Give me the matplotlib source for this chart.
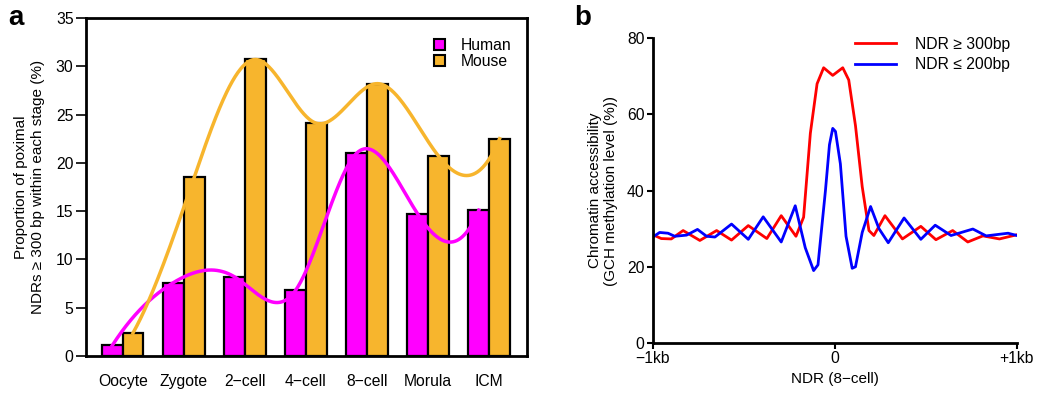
import numpy as np
import matplotlib
matplotlib.use("Agg")
import matplotlib.pyplot as plt
from matplotlib.patches import Patch

plt.rcParams['font.family'] = ['Liberation Sans', 'DejaVu Sans']

# panel a: proportion of proximal NDRs >= 300 bp
stages = ['Oocyte', 'Zygote', '2\u2212cell', '4\u2212cell', '8\u2212cell', 'Morula', 'ICM']
human = [1.1, 7.6, 8.2, 6.8, 21.0, 14.7, 15.1]
mouse = [2.4, 18.5, 30.7, 24.1, 28.2, 20.7, 22.5]

# panel b: GCH methylation level around 8-cell NDRs
pos_long = [-1000, -954, -899, -834, -742, -650, -568, -476, -374, -295, -214, -172,
            -135, -98, -62, -12, 43, 76, 113, 150, 187, 214, 275, 371, 472, 555,
            647, 730, 813, 904, 1000]
ndr_long = [28.4, 27.4, 27.3, 29.5, 26.9, 29.5, 27.0, 30.8, 27.4, 33.4, 28.0, 33.0,
            55.0, 68.0, 72.2, 70.2, 72.2, 69.0, 57.0, 41.0, 29.5, 28.2, 33.4, 27.3,
            30.6, 27.1, 29.5, 26.5, 28.1, 27.3, 28.4]
pos_short = [-1000, -963, -917, -880, -815, -755, -705, -659, -568, -476, -394, -295,
             -218, -163, -117, -93, -52, -30, -12, 3, 30, 61, 95, 113, 150, 196,
             242, 293, 380, 472, 551, 638, 758, 831, 951, 1000]
ndr_short = [27.8, 29.0, 28.8, 28.0, 28.3, 29.8, 28.0, 27.8, 31.2, 27.2, 33.1, 26.5,
             36.0, 25.0, 19.0, 20.5, 40.0, 52.0, 56.3, 55.5, 47.0, 28.0, 19.6, 20.0,
             29.0, 35.8, 30.0, 26.3, 32.8, 27.2, 30.9, 28.2, 29.9, 28.1, 28.8, 28.2]


def fmm_spline(x, y, n=400):
    # cubic interpolating spline with Forsythe-Malcolm-Moler end conditions (like R's spline())
    x = np.asarray(x, float)
    y = np.asarray(y, float)
    N = len(x)
    h = np.diff(x)
    dd = np.diff(y) / h
    A = np.zeros((N, N))
    r = np.zeros(N)
    for i in range(1, N - 1):
        A[i, i - 1] = h[i - 1]
        A[i, i] = 2 * (h[i - 1] + h[i])
        A[i, i + 1] = h[i]
        r[i] = dd[i] - dd[i - 1]
    A[0, 0] = -h[0]
    A[0, 1] = h[0]
    A[-1, -1] = -h[-1]
    A[-1, -2] = h[-1]
    c2 = np.diff(dd)
    r0 = c2[1] / (x[3] - x[1]) - c2[0] / (x[2] - x[0])
    rn = c2[-1] / (x[-1] - x[-3]) - c2[-2] / (x[-2] - x[-4])
    r[0] = r0 * h[0] ** 2 / (x[3] - x[0])
    r[-1] = -rn * h[-1] ** 2 / (x[-1] - x[-4])
    s = np.linalg.solve(A, r)
    b = dd - h * (s[1:] + 2 * s[:-1])
    c = 3 * s[:-1]
    d = (s[1:] - s[:-1]) / h
    xs = np.linspace(x[0], x[-1], n)
    k = np.clip(np.searchsorted(x, xs) - 1, 0, N - 2)
    dx = xs - x[k]
    ys = y[k] + b[k] * dx + c[k] * dx ** 2 + d[k] * dx ** 3
    return xs, ys


MAGENTA = '#FF00FF'
ORANGE = '#F7B52D'

fig = plt.figure(figsize=(10.38, 3.94), dpi=100)

# ---- panel a
ax = fig.add_axes([0.0829, 0.0964, 0.4249, 0.858])
x = np.arange(len(stages))
w = 0.34
ax.bar(x - w / 2, human, w, color=MAGENTA, edgecolor='black', linewidth=1.6, zorder=2)
ax.bar(x + w / 2, mouse, w, color=ORANGE, edgecolor='black', linewidth=1.6, zorder=2)
xs, ys = fmm_spline(x - w / 2, human)
ax.plot(xs, ys, color=MAGENTA, lw=2.5, zorder=3)
xs, ys = fmm_spline(x + w / 2, mouse)
ax.plot(xs, ys, color=ORANGE, lw=2.5, zorder=3)

ax.set_xlim(-0.60, 6.62)
ax.set_ylim(0, 35)
ax.set_yticks(range(0, 36, 5))
ax.set_xticks(x)
ax.set_xticklabels(stages)
ax.tick_params(axis='x', length=0, pad=13, labelsize=11.3)
ax.tick_params(axis='y', length=7, width=1.2, labelsize=11.3, pad=2)
for s in ax.spines.values():
    s.set_linewidth(2)
ax.set_ylabel('Proportion of poximal\nNDRs \u2265 300 bp within each stage (%)', fontsize=11,
              labelpad=8)
leg_a = [Patch(facecolor=MAGENTA, edgecolor='black', linewidth=1.5, label='Human'),
         Patch(facecolor=ORANGE, edgecolor='black', linewidth=1.5, label='Mouse')]
ax.legend(handles=leg_a, loc='upper right', bbox_to_anchor=(0.985, 0.97), frameon=False,
          fontsize=11.3, handlelength=0.7, handleheight=0.7, labelspacing=0.1,
          handletextpad=1.0, borderaxespad=0.2)
fig.text(0.008, 0.955, 'a', fontsize=20, fontweight='bold', va='center')

# ---- panel b
bx = fig.add_axes([0.629, 0.1294, 0.3507, 0.7741])
bx.plot(pos_long, ndr_long, color='#FF0000', lw=2, label='NDR \u2265 300bp')
bx.plot(pos_short, ndr_short, color='#0000FF', lw=2, label='NDR \u2264 200bp')
bx.set_xlim(-1000, 1000)
bx.set_ylim(0, 80)
bx.set_yticks([0, 20, 40, 60, 80])
bx.set_xticks([-1000, 0, 1000])
bx.set_xticklabels(['\u22121kb', '0', '+1kb'])
bx.tick_params(length=4, width=1.5, labelsize=11.3, pad=2)
for side in ['top', 'right']:
    bx.spines[side].set_visible(False)
for side in ['left', 'bottom']:
    bx.spines[side].set_linewidth(2)
bx.set_xlabel('NDR (8\u2212cell)', fontsize=11, labelpad=4)
bx.set_ylabel('Chromatin accessibility\n(GCH methylation level (%))', fontsize=11, labelpad=6)
bx.legend(loc='upper right', bbox_to_anchor=(1.02, 1.05), frameon=False, fontsize=11.3,
          handlelength=2.6, handletextpad=1.2, labelspacing=0.35)
fig.text(0.553, 0.955, 'b', fontsize=20, fontweight='bold', va='center')

fig.savefig('out.png', dpi=100)
